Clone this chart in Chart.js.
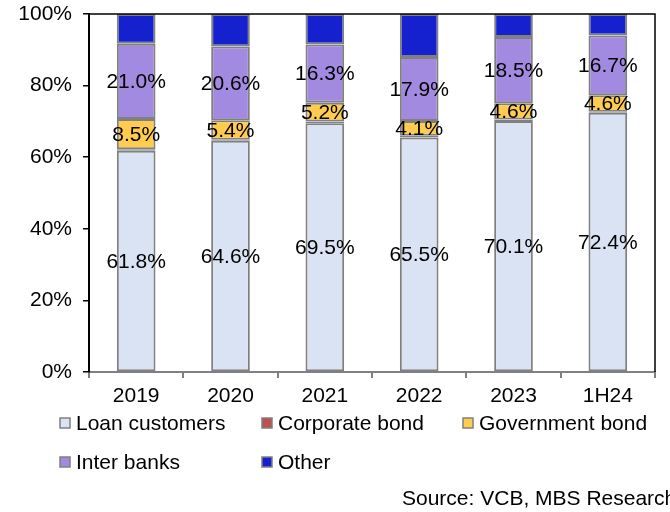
<!DOCTYPE html>
<html>
<head>
<meta charset="utf-8">
<script src="https://cdn.jsdelivr.net/npm/chart.js@4"></script>
<style>
  html, body { margin: 0; padding: 0; background: #fff; }
  canvas { display: block; }
</style>
</head>
<body>
<canvas id="c" width="670" height="512"></canvas>
<script>
const years = ['2019', '2020', '2021', '2022', '2023', '1H24'];
const loanCustomers = [61.8, 64.6, 69.5, 65.5, 70.1, 72.4];
const corporateBond = [0.4, 0.3, 0.5, 0.5, 0.4, 0.3];
const governmentBond = [8.5, 5.4, 5.2, 4.1, 4.6, 4.6];
const interBanks = [21.0, 20.6, 16.3, 17.9, 18.5, 16.7];
const other = [8.3, 9.1, 8.5, 12.0, 6.4, 6.0];
const yTicks = [0, 20, 40, 60, 80, 100];

const FONT = 'Arial, "Liberation Sans", sans-serif';

function series(label, data, color, showLabel) {
  return {
    label, data,
    backgroundColor: color,
    borderColor: '#808080',
    borderWidth: 2,
    borderSkipped: false,
    barPercentage: 0.41,
    categoryPercentage: 1,
    showLabel
  };
}

// value labels centred inside the segments
const segmentLabels = {
  id: 'segmentLabels',
  afterDatasetsDraw(chart) {
    const {ctx} = chart;
    ctx.save();
    ctx.font = '21px ' + FONT;
    ctx.fillStyle = '#000';
    ctx.textAlign = 'center';
    ctx.textBaseline = 'middle';
    chart.data.datasets.forEach((ds, i) => {
      if (!ds.showLabel) return;
      chart.getDatasetMeta(i).data.forEach((bar, j) => {
        ctx.fillText(ds.data[j].toFixed(1) + '%', bar.x, (bar.y + bar.base) / 2 + 1);
      });
    });
    ctx.restore();
  }
};

// frame on top/right, grid legend, source note
const extras = {
  id: 'extras',
  afterDraw(chart) {
    const {ctx, chartArea: a} = chart;
    ctx.save();
    ctx.strokeStyle = '#000';
    ctx.lineWidth = 1.5;
    ctx.beginPath();
    ctx.moveTo(a.left, a.top);
    ctx.lineTo(a.right, a.top);
    ctx.lineTo(a.right, a.bottom);
    ctx.stroke();

    const cols = [60, 262, 463];
    const rows = [423, 462];
    ctx.font = '21px ' + FONT;
    ctx.textBaseline = 'middle';
    ctx.textAlign = 'left';
    chart.data.datasets.forEach((ds, i) => {
      const x = cols[i % 3];
      const y = rows[Math.floor(i / 3)];
      ctx.fillStyle = ds.backgroundColor;
      ctx.fillRect(x, y - 5, 10, 10);
      ctx.strokeStyle = '#808080';
      ctx.lineWidth = 1.5;
      ctx.strokeRect(x, y - 5, 10, 10);
      ctx.fillStyle = '#000';
      ctx.fillText(ds.label, x + 16, y + 1);
    });

    ctx.font = '21px ' + FONT;
    ctx.fillText('Source: VCB, MBS Research', 402, 499);
    ctx.restore();
  }
};

new Chart(document.getElementById('c'), {
  type: 'bar',
  data: {
    labels: years,
    datasets: [
      series('Loan customers', loanCustomers, '#DAE3F3', true),
      series('Corporate bond', corporateBond, '#C0504D', false),
      series('Government bond', governmentBond, '#FFCC4D', true),
      series('Inter banks', interBanks, '#A28AE0', true),
      series('Other', other, '#1520CF', false)
    ]
  },
  options: {
    responsive: false,
    animation: false,
    layout: { padding: { top: 14, right: 15, left: 0, bottom: 0 } },
    plugins: {
      legend: { display: false },
      tooltip: { enabled: false }
    },
    scales: {
      x: {
        stacked: true,
        afterFit: (s) => { s.height = 140; s.paddingLeft = 0; s.paddingRight = 0; },
        grid: {
          offset: true,
          drawOnChartArea: false,
          drawTicks: true,
          tickLength: 6,
          color: '#808080',
          lineWidth: 2
        },
        border: { color: '#808080', width: 2 },
        ticks: { color: '#000', font: { size: 21, family: FONT }, padding: 6 }
      },
      y: {
        stacked: true,
        min: 0,
        max: 100,
        afterFit: (s) => { s.width = 89; s.paddingTop = 0; s.paddingBottom = 0; },
        afterBuildTicks: (s) => { s.ticks = yTicks.map(v => ({value: v})); },
        grid: {
          drawOnChartArea: false,
          drawTicks: true,
          tickLength: 6,
          color: '#000',
          lineWidth: 1.5
        },
        border: { color: '#000', width: 2 },
        ticks: {
          color: '#000',
          font: { size: 21, family: FONT },
          padding: 11,
          callback: (v) => v + '%'
        }
      }
    }
  },
  plugins: [segmentLabels, extras]
});
</script>
</body>
</html>
